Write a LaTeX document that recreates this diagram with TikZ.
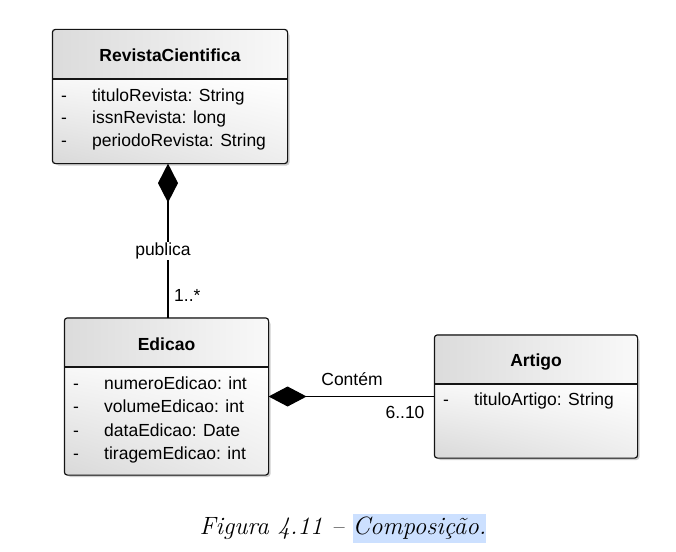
\documentclass[tikz,border=0pt]{standalone}
\usepackage{fontspec}
\setsansfont{Liberation Sans}
\usetikzlibrary{arrows.meta,shadows,shadings,calc}
\definecolor{hl}{RGB}{204,224,255}
\definecolor{edge}{RGB}{20,20,20}
\tikzset{
  classbox/.style={draw=edge, line width=1.2pt, rounded corners=3pt, inner sep=0pt, fill=white,
    drop shadow={shadow xshift=2.5pt, shadow yshift=-2.5pt, opacity=0.35, fill=black!55}},
  border/.style={draw=edge, line width=1.2pt, rounded corners=3pt},
  divider/.style={draw=edge, line width=1.2pt},
  ctitle/.style={font=\sffamily\fontsize{17.5}{20}\selectfont\bfseries, inner sep=0pt, text height=12.5pt, text depth=3.5pt},
  attr/.style={font=\sffamily\fontsize{17.5}{20}\selectfont, inner sep=0pt, anchor=west, text height=12.5pt, text depth=3.5pt},
  dashmark/.style={font=\sffamily\fontsize{17.5}{20}\selectfont, inner sep=0pt, text height=12.5pt, text depth=3.5pt},
  lbl/.style={font=\sffamily\fontsize{17.5}{20}\selectfont, inner sep=1pt, text height=12.5pt, text depth=3.5pt},
  conn/.style={draw=black, line width=1.2pt},
  headshade/.style={left color=gray!28, right color=gray!5},
  bodyshade/.style={upper left=gray!6, upper right=white, lower left=gray!30, lower right=gray!14},
}
\begin{document}
\begin{tikzpicture}[x=1pt,y=-1pt]
\useasboundingbox (0,0) rectangle (676,551);

% ---------- RevistaCientifica ----------
\node[classbox, minimum width=234pt, minimum height=133pt] (rev) at (170,96.5) {};
\coordinate (revd) at (0,79);
\begin{scope}
  \clip[rounded corners=3pt] (rev.north west) rectangle (rev.south east);
  \shade[headshade] (rev.north west) rectangle (rev.east |- revd);
  \shade[bodyshade] (rev.west |- revd) rectangle (rev.south east);
\end{scope}
\draw[divider] (rev.west |- revd) -- (rev.east |- revd);
\draw[border] (rev.north west) rectangle (rev.south east);
\node[ctitle] (revT) at (170,57) {RevistaCientifica};
\node[dashmark] (revD1) at (64,97) {-};
\node[dashmark] (revD2) at (64,119) {-};
\node[dashmark] (revD3) at (64,142) {-};
\node[attr] (revA1) at (92,97) {tituloRevista: String};
\node[attr] (revA2) at (92,119) {issnRevista: long};
\node[attr] (revA3) at (92,142) {periodoRevista: String};

% ---------- Edicao ----------
\node[classbox, minimum width=203pt, minimum height=156pt] (edi) at (166.5,396.5) {};
\coordinate (edid) at (0,367);
\begin{scope}
  \clip[rounded corners=3pt] (edi.north west) rectangle (edi.south east);
  \shade[headshade] (edi.north west) rectangle (edi.east |- edid);
  \shade[bodyshade] (edi.west |- edid) rectangle (edi.south east);
\end{scope}
\draw[divider] (edi.west |- edid) -- (edi.east |- edid);
\draw[border] (edi.north west) rectangle (edi.south east);
\node[ctitle] (ediT) at (166.5,346) {Edicao};
\node[dashmark] (ediD1) at (76,385) {-};
\node[dashmark] (ediD2) at (76,408) {-};
\node[dashmark] (ediD3) at (76,432) {-};
\node[dashmark] (ediD4) at (76,455) {-};
\node[attr] (ediA1) at (104,385) {numeroEdicao: int};
\node[attr] (ediA2) at (104,408) {volumeEdicao: int};
\node[attr] (ediA3) at (104,432) {dataEdicao: Date};
\node[attr] (ediA4) at (104,455) {tiragemEdicao: int};

% ---------- Artigo ----------
\node[classbox, minimum width=202pt, minimum height=122pt] (art) at (536,396.5) {};
\coordinate (artd) at (0,384);
\begin{scope}
  \clip[rounded corners=3pt] (art.north west) rectangle (art.south east);
  \shade[headshade] (art.north west) rectangle (art.east |- artd);
  \shade[bodyshade] (art.west |- artd) rectangle (art.south east);
\end{scope}
\draw[divider] (art.west |- artd) -- (art.east |- artd);
\draw[border] (art.north west) rectangle (art.south east);
\node[ctitle] (artT) at (536,362) {Artigo};
\node[dashmark] (artD1) at (446,401) {-};
\node[attr] (artA1) at (474,401) {tituloArtigo: String};

% ---------- connectors ----------
\coordinate (pc) at (168,0);
\draw[conn, {Diamond[length=39pt,width=20pt]}-] (rev.south -| pc) -- (edi.north -| pc);
\node[lbl, fill=white] (pub) at (163,251) {publica};
\node[lbl, anchor=west] (m1) at (173,297) {1..*};

\draw[conn, {Diamond[length=38pt,width=20pt]}-] (edi.east) -- (art.west);
\node[lbl] (cont) at (352,381) {Contém};
\node[lbl] (m2) at (405,414) {6..10};

% ---------- caption ----------
\node[inner sep=0pt, anchor=base] (cap) at (343,534)
  {\rmfamily\itshape\fontsize{25}{29}\selectfont
   Figura 4.11 -- \setlength{\fboxsep}{0pt}\colorbox{hl}{\strut Composição.}};
\end{tikzpicture}
\end{document}
